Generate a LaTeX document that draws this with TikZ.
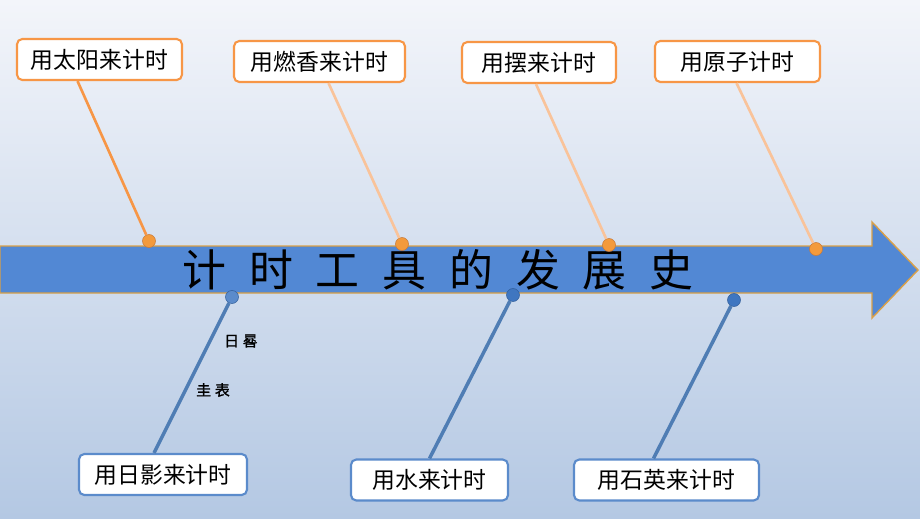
\documentclass[tikz,border=0pt]{standalone}
\usepackage{fontspec}
\setmainfont{Noto Sans CJK SC}
\newfontfamily\notefont[FakeBold=1.5,LetterSpace=25]{Noto Sans CJK SC}
\usetikzlibrary{calc}
\definecolor{bgtop}{HTML}{F3F5FA}
\definecolor{bgbot}{HTML}{B4C8E3}
\definecolor{shaft}{HTML}{5288D4}
\definecolor{rim}{HTML}{D9A048}
\definecolor{orange}{HTML}{F79646}
\definecolor{lightorange}{HTML}{F9C39A}
\definecolor{dotorange}{HTML}{F39A3C}
\definecolor{boxblue}{HTML}{5B8BCB}
\definecolor{lineblue}{HTML}{4F7DB4}
\definecolor{dotblue}{HTML}{3F76C0}
\tikzset{
  topbox/.style={draw=orange, line width=1.2pt, fill=white, rounded corners=3pt,
    minimum height=0.82cm, inner sep=0pt, font=\fontsize{13}{15}\selectfont},
  botbox/.style={topbox, draw=boxblue},
  odot/.style={circle, fill=dotorange, draw=orange!80!black, line width=0.3pt, minimum size=0.26cm, inner sep=0pt},
  bdot/.style={odot, fill=dotblue, draw=dotblue!80!black},
  note/.style={font=\notefont\fontsize{8.5}{10}\selectfont, inner sep=0pt}
}

\begin{document}
\begin{tikzpicture}[x=0.02cm,y=-0.02cm]
  % background
  \shade[top color=bgtop, bottom color=bgbot] (0,0) rectangle (920,518);
  \useasboundingbox (0,0) rectangle (920,518);

  % the big arrow
  \draw[rim, fill=shaft, line width=0.8pt] (0,246) -- (872,246) -- (872,222) -- (918,270)
    -- (872,318) -- (872,293) -- (0,293) -- cycle;
  \node[font=\fontsize{25}{28}\selectfont, inner sep=0pt] (title) at (438,270)
    {\spaceskip=0.52em 计 时 工 具 的 发 展 史};

  % upper boxes
  \node[topbox, minimum width=3.3cm]  (t1) at (99.5,59.5) {用太阳来计时};
  \node[topbox, minimum width=3.42cm] (t2) at (319.5,61.5) {用燃香来计时};
  \node[topbox, minimum width=3.08cm] (t3) at (539,62.5) {用摆来计时};
  \node[topbox, minimum width=3.3cm]  (t4) at (737.5,61.5) {用原子计时};

  \node[odot] (d1) at (149,241) {};
  \node[odot] (d2) at (402,244) {};
  \node[odot] (d3) at (609,245) {};
  \node[odot] (d4) at (816,249) {};

  \draw[orange, line width=1.5pt] ($(t1.south)+(-22,0)$) -- (d1);
  \draw[lightorange, line width=1.5pt] ($(t2.south)+(9,0)$) -- (d2);
  \draw[lightorange, line width=1.5pt] ($(t3.south)+(-3,0)$) -- (d3);
  \draw[lightorange, line width=1.5pt] ($(t4.south)+(-1,0)$) -- (d4);

  % lower boxes
  \node[botbox, minimum width=3.36cm] (b1) at (163,474.5) {用日影来计时};
  \node[botbox, minimum width=3.14cm] (b2) at (429.5,480) {用水来计时};
  \node[botbox, minimum width=3.7cm]  (b3) at (666.5,480) {用石英来计时};

  \node[bdot, fill=boxblue] (e1) at (232,297) {};
  \node[bdot] (e2) at (513,295) {};
  \node[bdot] (e3) at (734,300) {};

  \draw[lineblue, line width=2pt] (e1) -- ($(b1.north)+(-9,0)$);
  \draw[lineblue, line width=2pt] (e2) -- ($(b2.north)+(0,0)$);
  \draw[lineblue, line width=2pt] (e3) -- ($(b3.north)+(-13,0)$);

  \node[note] (n1) at (241,341) {日晷};
  \node[note] (n2) at (213,390) {圭表};
\end{tikzpicture}
\end{document}
